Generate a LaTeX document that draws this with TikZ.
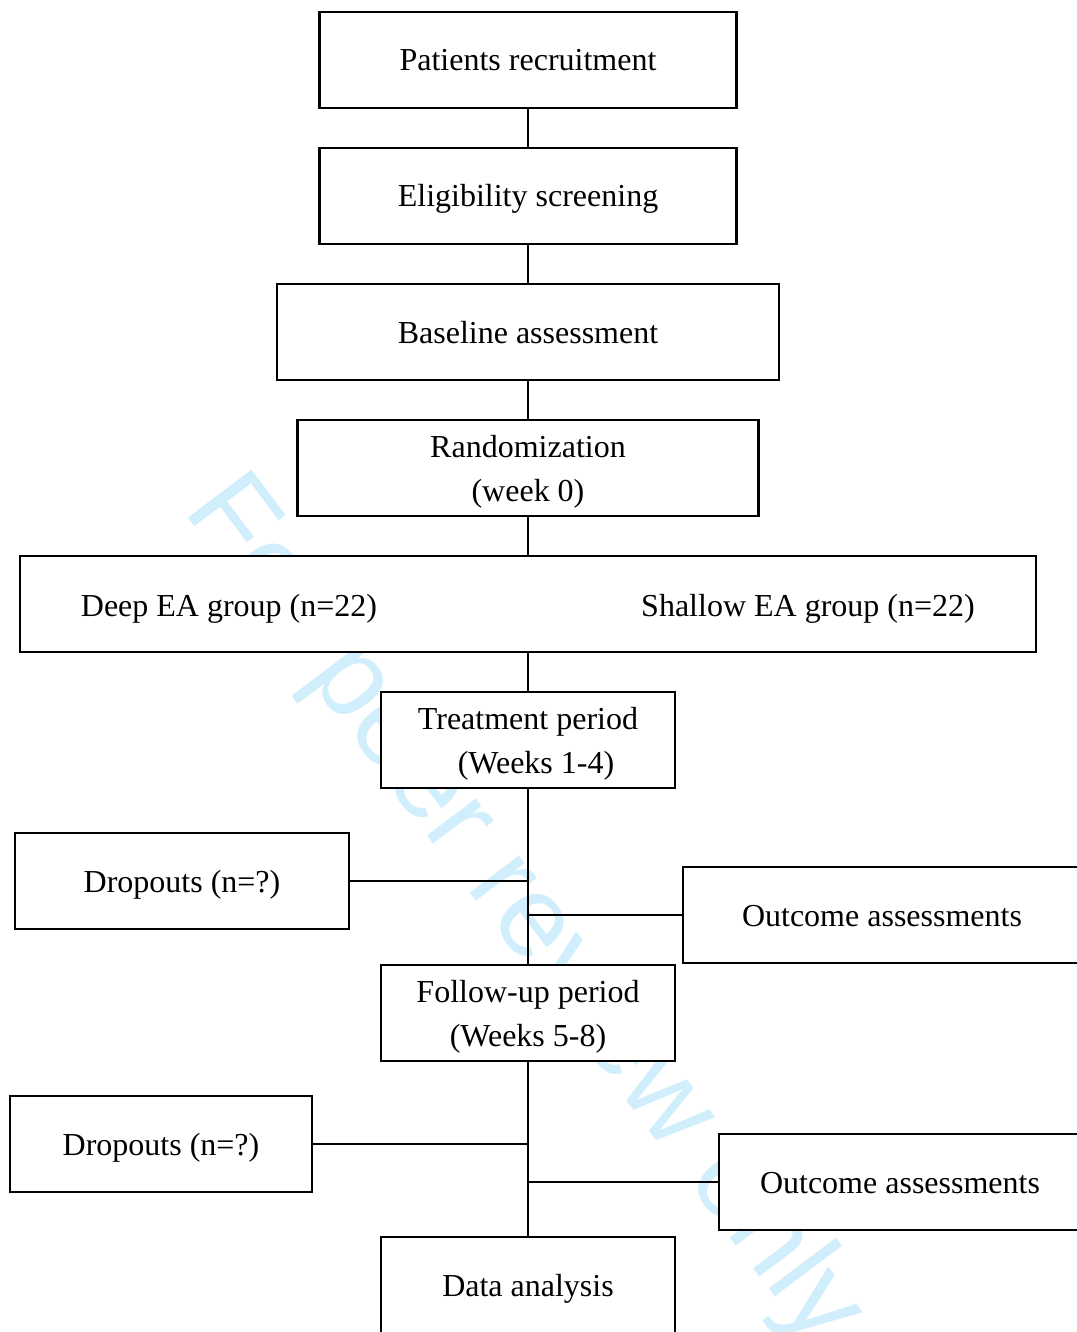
\documentclass[tikz,border=0pt]{standalone}
\usepackage{fontspec}
\setmainfont{Liberation Serif}
\newfontfamily\wmfont{Liberation Sans}
\usepackage{xcolor}
\usepackage{tikz}
\usetikzlibrary{positioning}
\definecolor{wmblue}{RGB}{208,238,251}

\begin{document}
\begin{tikzpicture}[x=0.5pt,y=-0.5pt,node distance=20pt,
		box/.style={draw,fill=white,line width=1.4pt,outer sep=0pt,minimum height=48pt,inner sep=2pt,align=center,font=\fontsize{16}{22}\selectfont,execute at begin node={\rule[-4pt]{0pt}{19pt}}},
		label/.style={font=\fontsize{16}{22}\selectfont,execute at begin node={\rule[-4pt]{0pt}{19pt}}},
		caption/.style={font=\fontsize{16}{22}\selectfont,align=center},
		link/.style={line width=1.4pt}]
			\useasboundingbox (0,0) rectangle (1076,1332);
			% watermark behind the boxes
			\node[rotate=-53,anchor=base west,text=wmblue,font=\wmfont\fontsize{58}{58}\selectfont] (wm) at (178,505) {For peer review only};

			\node[box,minimum width=208.5pt] (recruit) at (528,60) {Patients recruitment};
			\node[box,minimum width=208.5pt] (screen) [below=of recruit] {Eligibility screening};
			\node[box,minimum width=251pt] (base) [below=of screen] {Baseline assessment};
			\node[box,minimum width=230.5pt] (random) [below=of base] {};
			\node[box,minimum width=508pt] (groups) [below=of random] {};
			\node[box,minimum width=147pt] (treat) [below=of groups] {};
			\node[box,minimum width=147pt] (follow) [below=88.5pt of treat] {};
			\node[box,minimum width=147pt] (data) [below=88pt of follow] {Data analysis};
			\node[box,minimum width=167pt] (drop1) at (182,881) {Dropouts (n=?)};
			\node[box,minimum width=199pt,anchor=west] (out1) at (683,915) {Outcome assessments};
			\node[box,minimum width=151pt] (drop2) at (161,1144) {Dropouts (n=?)};
			\node[box,minimum width=181pt,anchor=west] (out2) at (719,1182) {Outcome assessments};

			% texts set apart from their boxes
			\node[caption] (randomtext) at ([yshift=-2pt]random.center) {Randomization\\(week 0)};
			\node[label] (deep) at (229,605) {Deep EA group (n=22)};
			\node[label] (shallow) at (808,605) {Shallow EA group (n=22)};
			\node[caption] (treattext) at ([yshift=-2pt]treat.center) {Treatment period\\\hspace*{8pt}(Weeks 1-4)};
			\node[caption] (followtext) at ([yshift=-2pt]follow.center) {Follow-up period\\(Weeks 5-8)};

			\draw[link] (recruit) -- (screen)
					(screen) -- (base)
					(base) -- (random)
					(random) -- (groups)
					(groups) -- (treat)
					(treat) -- (follow)
					(follow) -- (data)
					(drop1) -- (drop1 -| treat)
					(out1) -- (out1 -| treat)
					(drop2) -- (drop2 -| follow)
					(out2) -- (out2 -| follow);
\end{tikzpicture}
\end{document}
